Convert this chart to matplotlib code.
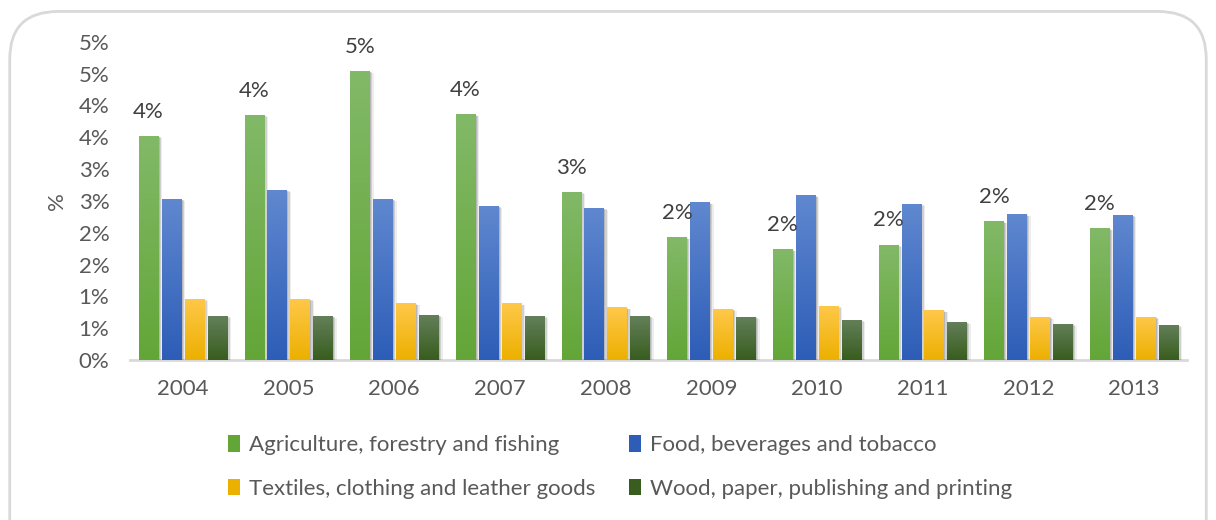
import matplotlib
import matplotlib.pyplot as plt
import matplotlib.patheffects as pe
import numpy as np
from matplotlib.colors import LinearSegmentedColormap
from matplotlib.patches import FancyBboxPatch, Patch

matplotlib.use('Agg')

years = ['2004', '2005', '2006', '2007', '2008', '2009', '2010', '2011', '2012', '2013']
series_names = ['Agriculture, forestry and fishing', 'Food, beverages and tobacco',
                'Textiles, clothing and leather goods', 'Wood, paper, publishing and printing']
agriculture = [3.52, 3.85, 4.54, 3.86, 2.64, 1.93, 1.74, 1.81, 2.18, 2.07]
food = [2.53, 2.67, 2.53, 2.42, 2.39, 2.48, 2.59, 2.45, 2.29, 2.28]
textiles = [0.96, 0.96, 0.89, 0.89, 0.83, 0.80, 0.85, 0.78, 0.68, 0.68]
wood = [0.69, 0.69, 0.71, 0.69, 0.69, 0.68, 0.63, 0.60, 0.57, 0.55]
y_ticks = [0, 0.5, 1.0, 1.5, 2.0, 2.5, 3.0, 3.5, 4.0, 4.5, 5.0]
y_tick_labels = ['0%', '1%', '1%', '2%', '2%', '3%', '3%', '4%', '4%', '5%', '5%']

# (top, bottom) gradient colours per series
gradients = [('#82b968', '#63a637'),
             ('#6088d0', '#2d5db7'),
             ('#ffc84a', '#ecb000'),
             ('#64805a', '#385d1e')]

TEXT = '#595959'
FS = 16
plt.rcParams['font.family'] = ['Lato', 'DejaVu Sans']
plt.rcParams['font.size'] = FS

fig = plt.figure(figsize=(12.16, 5.2), dpi=100)
ax = fig.add_axes([0.107, 0.3077, 0.869, 0.612])

# rounded chart frame
frame = FancyBboxPatch((0.008, -0.2), 0.984, 1.178, boxstyle='round,pad=0,rounding_size=0.04',
                       transform=fig.transFigure, facecolor='white', edgecolor='#d9d9d9',
                       linewidth=2, zorder=-10, mutation_aspect=2.3)
fig.patches.append(frame)

x = np.arange(len(years))
step = 0.217
width = 0.183
all_series = [agriculture, food, textiles, wood]
grad = np.linspace(1, 0, 256).reshape(-1, 1)

shadow = [pe.SimplePatchShadow(offset=(3, -1.5), shadow_rgbFace='k', alpha=0.07),
          pe.SimplePatchShadow(offset=(2, -1), shadow_rgbFace='k', alpha=0.12),
          pe.SimplePatchShadow(offset=(1, -0.5), shadow_rgbFace='k', alpha=0.12),
          pe.Normal()]

for k, vals in enumerate(all_series):
    cmap = LinearSegmentedColormap.from_list('g%d' % k, [gradients[k][1], gradients[k][0]])
    bars = ax.bar(x + (k - 1.5) * step, vals, width, color=gradients[k][1], zorder=2,
                  path_effects=shadow)
    for b in bars:
        im = ax.imshow(grad, extent=[b.get_x(), b.get_x() + b.get_width(), 0, b.get_height()],
                       aspect='auto', cmap=cmap, vmin=0, vmax=1, zorder=3)
        im.set_clip_path(b)

# value labels above agriculture bars
for i, v in enumerate(agriculture):
    ax.annotate('%d%%' % round(v), (x[i] - 1.5 * step, v), xytext=(0, 17.5), textcoords='offset points',
                ha='center', va='center', color='#404040', fontsize=FS)

ax.set_xlim(-0.5, len(years) - 0.5)
ax.set_ylim(0, 5.0)
ax.set_yticks(y_ticks)
ax.set_yticklabels(y_tick_labels)
ax.set_xticks(x)
ax.set_xticklabels(years)
ax.tick_params(length=0, colors=TEXT, labelsize=FS)
ax.tick_params(axis='y', pad=15)
ax.tick_params(axis='x', pad=14)
for s in ['top', 'right', 'left']:
    ax.spines[s].set_visible(False)
ax.spines['bottom'].set_color('#d9d9d9')
ax.spines['bottom'].set_linewidth(2)
ax.spines['bottom'].set_zorder(1)
ax.set_ylabel('%', color=TEXT, fontsize=FS, labelpad=8)

handles = [Patch(facecolor=gradients[k][1], edgecolor='none') for k in range(4)]
order = [0, 2, 1, 3]
fig.legend([handles[i] for i in order], [series_names[i] for i in order], ncol=2,
           loc='center', bbox_to_anchor=(0.51, 0.102), frameon=False, fontsize=FS,
           handlelength=0.55, handleheight=0.75, handletextpad=0.4, columnspacing=1.5,
           labelspacing=1.05, labelcolor=TEXT)

fig.savefig('out.png', dpi=100)
